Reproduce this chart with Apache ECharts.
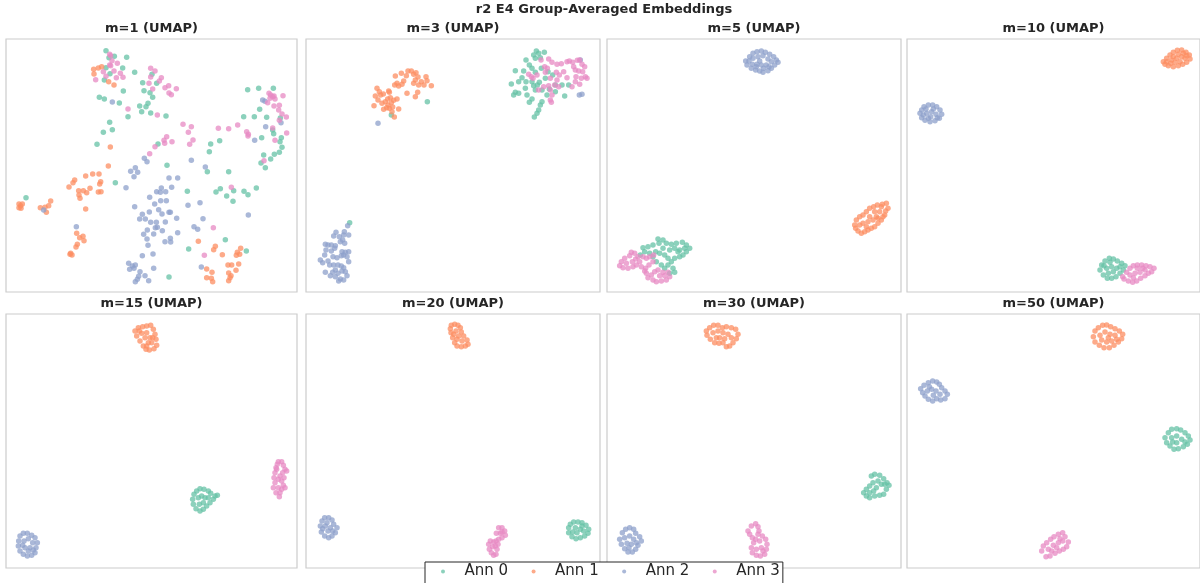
<!DOCTYPE html>
<html>
<head>
<meta charset="utf-8">
<script src="https://cdn.jsdelivr.net/npm/echarts@6/dist/echarts.min.js"></script>
<style>html,body{margin:0;padding:0;background:#fff;}#c{width:1200px;height:583px;}</style>
</head>
<body>
<div id="c"></div>
<script>
// Series names & colours
const annNames = ['Ann 0', 'Ann 1', 'Ann 2', 'Ann 3'];
const annColors = ['#66c2a5', '#fc8d62', '#8da0cb', '#e78ac3'];
const panelTitles = ['m=1 (UMAP)', 'm=3 (UMAP)', 'm=5 (UMAP)', 'm=10 (UMAP)', 'm=15 (UMAP)', 'm=20 (UMAP)', 'm=30 (UMAP)', 'm=50 (UMAP)'];

// ---- m=1 ----
const m1_ann0 = [[318,47],[327,68],[343,64],[380,67],[318,98],[368,99],[404,112],[313,135],[330,116],[370,168],[428,143],[456,118],[470,145],[432,167],[450,173],[458,187],[298,187],[313,192],[358,204],[419,213],[438,215],[444,205],[425,230],[452,234],[498,243],[384,245],[329,262],[337,284],[310,292],[291,328],[474,327],[346,443],[78,488],[501,391],[562,469],[622,410],[632,327],[659,317],[628,350],[686,410],[648,471],[661,461],[680,483],[699,499],[701,467],[732,469],[744,479],[769,459],[676,614],[566,642],[739,648],[507,726],[743,164],[776,160],[820,160],[779,223],[763,245],[800,247],[731,245],[841,249],[818,285],[821,296],[785,308],[844,308],[840,320],[846,337],[791,360],[823,358],[838,352],[812,372],[783,384],[796,398]];
const m1_ann1 = [[281,103],[295,99],[305,95],[282,117],[326,140],[342,150],[331,336],[325,393],[278,417],[297,417],[257,423],[224,435],[219,443],[207,456],[302,440],[299,447],[236,467],[250,467],[270,460],[260,473],[237,480],[240,490],[295,471],[303,470],[257,522],[57,507],[62,512],[67,507],[57,518],[63,520],[152,498],[146,512],[135,517],[121,518],[139,532],[230,595],[239,608],[249,604],[252,617],[232,628],[228,636],[212,655],[216,660],[210,658],[595,619],[646,634],[641,644],[667,659],[722,640],[712,652],[719,658],[709,661],[716,687],[684,690],[695,690],[708,706],[686,714],[693,722],[686,737],[620,702],[636,712],[634,730],[638,740],[620,728],[690,728]];
const m1_ann2 = [[337,201],[433,370],[406,398],[392,409],[413,412],[402,425],[441,380],[574,376],[616,396],[378,458],[507,429],[533,429],[484,459],[515,457],[470,470],[481,472],[497,470],[449,487],[482,497],[499,497],[464,507],[404,515],[448,531],[476,524],[486,537],[507,532],[511,532],[427,538],[419,552],[436,552],[452,562],[469,562],[496,561],[530,550],[466,578],[472,577],[487,587],[442,585],[431,598],[461,597],[533,593],[441,612],[511,610],[495,620],[512,621],[444,631],[459,657],[427,662],[564,511],[600,503],[609,551],[582,575],[593,583],[745,540],[229,575],[131,525],[386,685],[397,693],[406,690],[389,703],[402,700],[420,710],[461,700],[435,722],[416,724],[412,733],[406,740],[446,737],[604,696],[797,275],[843,263],[764,316],[788,195],[795,199]];
const m1_ann3 = [[329,58],[332,62],[336,77],[329,90],[332,92],[342,108],[352,85],[318,124],[349,128],[361,115],[369,127],[310,110],[287,134],[452,100],[465,108],[452,126],[484,128],[478,138],[447,145],[495,158],[506,152],[529,161],[458,162],[507,174],[514,179],[384,222],[472,240],[549,268],[574,275],[565,292],[579,315],[569,328],[500,305],[492,316],[516,320],[494,325],[465,335],[449,356],[655,280],[686,281],[713,270],[740,290],[744,303],[745,298],[792,377],[694,457],[640,578],[613,661],[807,175],[812,180],[818,185],[822,183],[810,190],[825,192],[849,182],[803,203],[822,213],[838,211],[836,225],[846,237],[859,246],[838,256],[860,294],[825,316],[818,279]];

// ---- m=3 ----
const m3_ann0 = [[703,48],[710,55],[727,52],[695,60],[672,75],[682,90],[700,70],[715,68],[690,100],[665,108],[640,107],[700,112],[718,100],[660,128],[672,140],[628,147],[650,140],[690,140],[695,152],[706,150],[700,165],[670,160],[640,172],[650,175],[635,180],[675,180],[690,192],[720,165],[742,162],[760,170],[735,180],[760,150],[780,150],[800,150],[788,183],[720,200],[715,210],[710,225],[705,235],[697,246],[682,202],[730,130],[712,142],[752,120],[738,110],[376,200],[268,240],[143,563]];
const m3_ann1 = [[225,160],[232,170],[220,183],[236,180],[244,177],[228,195],[216,212],[240,205],[250,200],[257,192],[265,188],[262,172],[278,150],[285,145],[290,153],[280,123],[298,115],[305,138],[313,122],[318,108],[328,108],[335,118],[342,113],[348,126],[340,135],[335,145],[350,150],[358,140],[366,150],[372,125],[375,137],[388,152],[347,172],[340,185],[315,175],[300,148],[262,220],[258,210],[272,216],[270,230],[277,246],[290,222],[268,203],[254,218],[245,223],[275,196],[285,192],[260,168]];
const m3_ann2 = [[137,572],[127,590],[102,592],[95,603],[112,605],[125,600],[140,600],[70,628],[78,630],[88,630],[100,632],[115,620],[122,615],[128,625],[72,645],[88,648],[98,640],[120,650],[130,652],[140,650],[135,665],[125,660],[118,662],[68,660],[93,665],[105,668],[78,678],[62,683],[55,675],[83,690],[95,690],[108,690],[118,693],[125,698],[130,710],[135,722],[120,708],[100,705],[92,712],[108,715],[70,712],[85,722],[100,725],[115,732],[125,735],[110,738],[140,680],[228,265],[835,75],[840,178],[832,180]];
const m3_ann3 = [[717,75],[740,72],[750,82],[728,95],[736,100],[765,88],[778,86],[795,80],[802,78],[812,82],[826,76],[833,75],[840,88],[848,95],[815,95],[820,105],[830,108],[842,110],[850,125],[855,130],[838,130],[822,125],[820,140],[833,148],[810,155],[795,128],[785,110],[772,120],[765,135],[770,155],[758,150],[745,165],[750,180],[745,195],[748,202],[740,152],[725,155],[710,165],[693,130],[680,118],[688,125],[705,120],[745,130],[763,112],[730,112]];

// ---- m=5 ----
const m5_ann0 = [[165,612],[180,615],[190,625],[168,625],[150,630],[135,635],[120,638],[205,628],[220,625],[238,622],[250,630],[260,640],[250,650],[240,660],[230,665],[215,670],[205,680],[195,690],[210,700],[215,712],[200,715],[185,700],[175,690],[160,680],[150,665],[140,655],[125,650],[112,660],[158,650],[170,655],[185,660],[200,645],[215,640],[230,645],[180,640],[195,670],[225,650],[245,640]];
const m5_ann1 = [[850,505],[838,508],[823,510],[812,515],[800,520],[790,530],[780,540],[770,545],[760,555],[755,570],[758,580],[765,588],[775,595],[785,590],[795,585],[805,580],[815,575],[825,565],[835,555],[845,540],[855,520],[848,528],[830,530],[820,545],[810,555],[795,560],[780,565],[770,570],[800,545],[815,530],[835,515],[790,575],[825,550],[840,545]];
const m5_ann2 = [[440,65],[450,55],[462,50],[475,48],[487,52],[500,58],[512,65],[520,75],[525,82],[515,90],[505,100],[495,107],[480,112],[470,108],[458,105],[445,100],[432,90],[428,78],[438,78],[450,70],[465,65],[480,62],[495,72],[505,80],[490,90],[475,90],[462,88],[448,88],[470,78],[482,100],[460,95],[498,95]];
const m5_ann3 = [[85,652],[95,655],[80,662],[65,670],[55,680],[50,692],[60,698],[75,700],[90,695],[100,690],[110,680],[98,672],[105,665],[120,665],[130,670],[140,665],[152,660],[150,680],[138,690],[128,700],[130,715],[135,728],[150,735],[160,740],[175,738],[190,735],[200,725],[195,712],[180,712],[165,705],[155,710],[145,720],[170,722],[185,722],[115,695],[125,708],[70,685],[88,680]];

// ---- m=10 ----
const m10_ann0 = [[605,690],[615,678],[628,670],[640,672],[652,678],[665,685],[675,692],[670,705],[660,715],[648,725],[635,730],[622,730],[610,720],[600,705],[620,700],[635,695],[650,700],[640,710],[625,715],[630,682],[660,695],[612,692]];
const m10_ann1 = [[790,80],[800,70],[810,60],[820,52],[832,46],[845,45],[858,52],[868,60],[870,72],[860,82],[848,88],[835,92],[820,95],[805,92],[795,88],[815,75],[830,70],[845,65],[855,70],[840,80],[825,82],[812,85],[850,55],[835,58],[820,65],[860,62],[800,80]];
const m10_ann2 = [[60,235],[65,225],[72,215],[85,210],[98,210],[110,215],[120,225],[125,238],[118,250],[105,257],[90,260],[75,256],[65,248],[80,235],[95,230],[108,238],[92,245],[78,222],[100,222],[112,248],[85,250],[70,240]];
const m10_ann3 = [[668,725],[680,712],[690,700],[700,692],[712,690],[725,690],[738,692],[750,695],[762,700],[755,710],[745,715],[735,722],[722,730],[710,738],[698,742],[685,738],[672,732],[690,720],[705,715],[720,712],[735,705],[712,700],[700,728],[728,700]];

// ---- m=15 ----
const m15_ann0 = [[582,595],[590,585],[600,578],[612,580],[625,585],[632,592],[645,600],[652,598],[640,610],[630,620],[620,630],[610,640],[600,645],[588,638],[580,625],[578,610],[595,605],[605,600],[615,605],[610,620],[598,625],[625,605]];
const m15_ann1 = [[405,105],[415,95],[428,92],[440,90],[452,88],[460,100],[465,115],[468,130],[470,148],[462,158],[448,162],[438,160],[430,150],[420,135],[410,120],[425,112],[440,110],[450,125],[445,140],[455,140],[435,125],[418,105],[458,125],[440,150]];
const m15_ann2 = [[60,720],[70,712],[82,712],[95,718],[105,725],[112,740],[108,755],[105,770],[95,778],[82,780],[70,775],[60,765],[55,750],[56,735],[72,735],[85,728],[98,740],[90,755],[75,755],[85,765],[100,762],[68,748]];
const m15_ann3 = [[835,497],[845,497],[850,508],[855,520],[860,525],[848,530],[840,540],[835,550],[845,555],[850,568],[845,580],[840,590],[838,602],[828,590],[820,575],[825,560],[822,545],[825,530],[828,515],[832,505],[855,575],[852,545],[835,575],[830,520]];

// ---- m=20 ----
const m20_ann0 = [[805,685],[815,678],[828,678],[840,680],[852,688],[860,700],[858,712],[848,720],[835,725],[822,728],[810,722],[800,710],[800,695],[820,695],[835,700],[825,710],[845,705],[812,708],[840,690]];
const m20_ann1 = [[448,88],[458,85],[468,88],[475,95],[478,108],[485,120],[495,132],[498,145],[490,150],[478,152],[465,150],[458,140],[452,125],[447,110],[445,98],[462,105],[470,120],[480,135],[465,130],[455,115]];
const m20_ann2 = [[55,690],[60,675],[68,665],[80,665],[90,672],[95,685],[105,695],[100,710],[90,720],[80,725],[68,720],[58,708],[70,690],[85,695],[78,705],[75,680],[92,705],[62,698]];
const m20_ann3 = [[590,695],[600,695],[608,705],[610,718],[600,725],[590,730],[582,735],[575,738],[565,735],[560,745],[562,760],[568,770],[575,778],[582,775],[585,760],[580,750],[572,752],[588,745],[595,712],[583,712],[600,708]];

// ---- m=30 ----
const m30_ann0 = [[805,540],[815,535],[830,538],[842,548],[852,560],[858,568],[850,580],[842,595],[830,598],[815,600],[800,605],[790,600],[782,590],[790,580],[800,570],[810,560],[820,575],[835,565],[825,555],[812,585],[800,590],[845,565]];
const m30_ann1 = [[310,105],[320,95],[332,88],[345,88],[358,95],[370,92],[385,95],[398,100],[405,115],[400,128],[390,140],[380,150],[370,152],[360,140],[348,142],[335,140],[322,130],[312,118],[330,110],[345,105],[360,110],[375,115],[385,125],[350,125],[365,128],[340,125]];
const m30_ann2 = [[58,710],[68,700],[80,695],[92,700],[98,712],[110,722],[115,735],[105,748],[98,760],[88,768],[75,768],[65,758],[55,745],[50,730],[65,725],[80,720],[92,730],[85,745],[72,742],[100,740],[78,755]];
const m30_ann3 = [[445,690],[458,683],[465,692],[468,705],[478,720],[488,730],[492,745],[490,760],[485,775],[472,780],[460,778],[448,770],[445,755],[452,740],[448,725],[440,715],[435,705],[465,715],[470,735],[475,755],[460,760],[458,730],[480,765]];

// ---- m=50 ----
const m50_ann0 = [[795,425],[805,410],[815,400],[830,398],[842,402],[855,410],[865,420],[870,432],[862,445],[850,452],[835,458],[822,460],[810,450],[800,440],[815,425],[830,420],[845,430],[830,440],[855,438],[818,438]];
const m50_ann1 = [[585,105],[595,95],[608,88],[620,87],[632,92],[645,98],[658,105],[668,115],[665,128],[655,138],[642,148],[628,155],[612,155],[598,148],[585,138],[580,122],[600,118],[615,108],[630,115],[645,118],[650,130],[635,135],[620,138],[605,132],[625,125]];
const m50_ann2 = [[62,278],[72,268],[85,260],[98,255],[110,258],[118,265],[125,275],[135,285],[142,295],[135,308],[122,312],[110,308],[98,315],[85,310],[75,300],[68,290],[82,285],[95,280],[108,285],[120,295],[100,298],[88,272]];
const m50_ann3 = [[425,765],[430,750],[440,740],[452,730],[462,722],[475,715],[488,710],[495,722],[505,738],[500,752],[490,760],[478,765],[465,772],[450,780],[438,782],[445,760],[460,748],[475,740],[488,735],[470,755],[455,765],[480,728]];

const panelData = [
  [m1_ann0, m1_ann1, m1_ann2, m1_ann3],
  [m3_ann0, m3_ann1, m3_ann2, m3_ann3],
  [m5_ann0, m5_ann1, m5_ann2, m5_ann3],
  [m10_ann0, m10_ann1, m10_ann2, m10_ann3],
  [m15_ann0, m15_ann1, m15_ann2, m15_ann3],
  [m20_ann0, m20_ann1, m20_ann2, m20_ann3],
  [m30_ann0, m30_ann1, m30_ann2, m30_ann3],
  [m50_ann0, m50_ann1, m50_ann2, m50_ann3]
];

// layout (pixels) and axis extents (embedding units)
const layout = [
  {left: 6,   top: 39,  w: 291, h: 253, x: [18, 891], y: [12, 771]},
  {left: 306, top: 39,  w: 294, h: 253, x: [12, 894], y: [12, 771]},
  {left: 607, top: 39,  w: 294, h: 253, x: [12, 894], y: [12, 771]},
  {left: 907, top: 39,  w: 293, h: 253, x: [21, 900], y: [12, 771]},
  {left: 6,   top: 314, w: 291, h: 254, x: [18, 891], y: [54, 816]},
  {left: 306, top: 314, w: 294, h: 254, x: [12, 894], y: [54, 816]},
  {left: 607, top: 314, w: 294, h: 254, x: [12, 894], y: [54, 816]},
  {left: 907, top: 314, w: 293, h: 254, x: [21, 900], y: [54, 816]}
];

const font = 'DejaVu Sans';
const textColor = '#262626';
const grids = [], xAxes = [], yAxes = [], series = [];
const titles = [{
  text: 'r2 E4 Group-Averaged Embeddings', left: 604, top: 3, textAlign: 'center', padding: 0,
  textStyle: {fontFamily: font, fontSize: 13, fontWeight: 'bold', color: textColor}
}];
layout.forEach((L, i) => {
  grids.push({left: L.left, top: L.top, width: L.w, height: L.h, show: true, borderColor: '#cccccc', borderWidth: 1.2, backgroundColor: '#fff', containLabel: false});
  const hidden = {show: false};
  xAxes.push({gridIndex: i, type: 'value', min: L.x[0], max: L.x[1], axisLine: hidden, axisTick: hidden, axisLabel: hidden, splitLine: hidden});
  yAxes.push({gridIndex: i, type: 'value', min: L.y[0], max: L.y[1], inverse: true, axisLine: hidden, axisTick: hidden, axisLabel: hidden, splitLine: hidden});
  titles.push({
    text: panelTitles[i], left: L.left + L.w / 2, top: L.top - 17, textAlign: 'center', padding: 0,
    textStyle: {fontFamily: font, fontSize: 13, fontWeight: 'bold', color: textColor}
  });
  panelData[i].forEach((d, k) => {
    series.push({
      type: 'scatter', name: annNames[k], xAxisIndex: i, yAxisIndex: i, data: d,
      symbolSize: 5.5, itemStyle: {color: annColors[k], opacity: 0.75},
      emphasis: {disabled: true}, silent: true, animation: false
    });
  });
});

const chart = echarts.init(document.getElementById('c'));
chart.setOption({
  backgroundColor: '#ffffff',
  animation: false,
  title: titles,
  grid: grids,
  xAxis: xAxes,
  yAxis: yAxes,
  legend: {
    data: annNames, left: 425, top: 562, orient: 'horizontal',
    icon: 'circle', itemWidth: 4, itemHeight: 4, itemGap: 23.5,
    padding: [2, 3, 10, 16],
    backgroundColor: '#ffffff', borderColor: '#262626', borderWidth: 1, borderRadius: 0,
    textStyle: {fontFamily: font, fontSize: 15, color: textColor, padding: [0, 0, 0, 14.5]},
    itemStyle: {opacity: 0.75},
    selectedMode: false
  },
  series: series
});
</script>
</body>
</html>
